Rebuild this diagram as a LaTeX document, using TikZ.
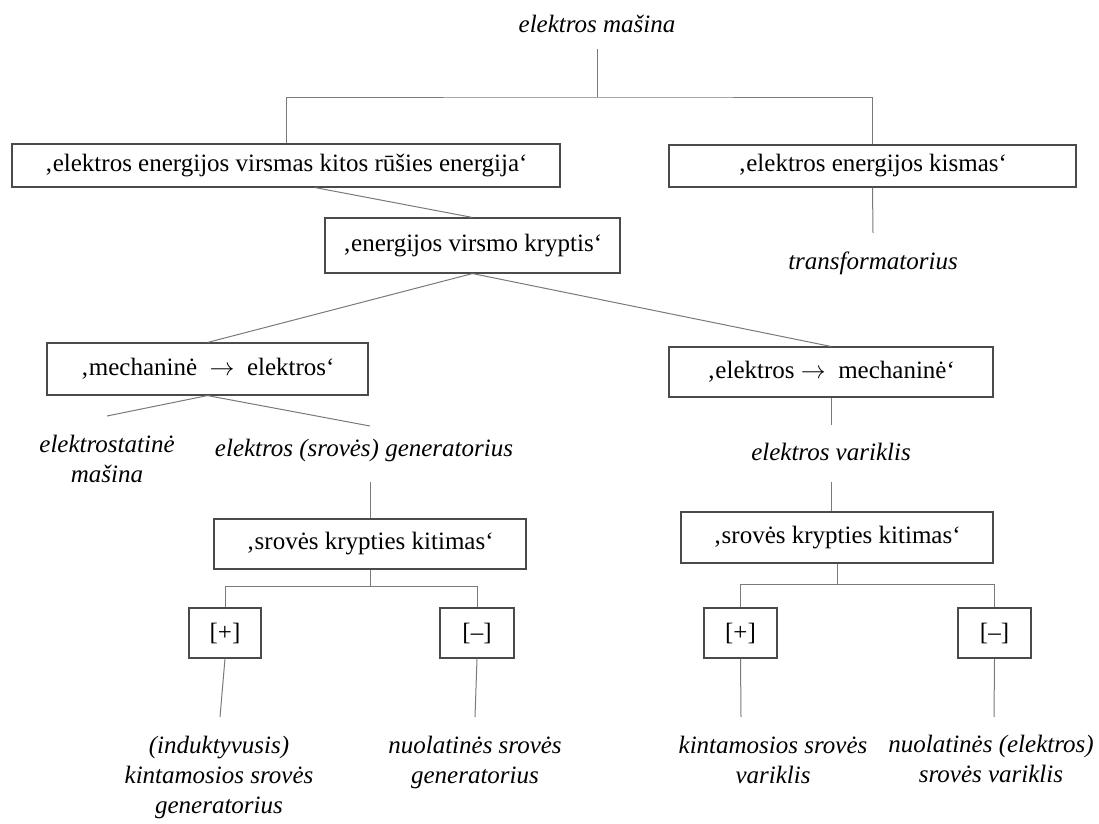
\documentclass[tikz,border=0pt]{standalone}
\usepackage{fontspec}
\setmainfont{Liberation Serif}
\definecolor{linegray}{HTML}{7A7A7A}
\definecolor{boxgray}{HTML}{4A4A4A}
\begin{document}
\begin{tikzpicture}[x=1pt,y=-1pt,
  every node/.style={font=\fontsize{25}{30}\selectfont, inner sep=0pt},
  box/.style={draw=boxgray, line width=1.1pt, anchor=center},
  lab/.style={font=\fontsize{25}{30}\selectfont\itshape, align=center},
  conn/.style={draw=linegray, line width=1pt}]
\fill[white] (0,0) rectangle (1099,823);
\useasboundingbox (0,0) rectangle (1099,823);

% top
\node[lab] (top) at (597,24) {elektros mašina};
\coordinate (j0) at (597,97);

\node[box, minimum width=548pt, minimum height=43pt] (lbox) at (286,165.5) {‚elektros energijos virsmas kitos rūšies energija‘};
\node[box, minimum width=407pt, minimum height=42pt] (rbox) at (872.5,166) {‚elektros energijos kismas‘};
\node[lab] (trans) at (873,263) {transformatorius};

\node[box, minimum width=295pt, minimum height=55pt] (en) at (472.5,245.5) {‚energijos virsmo kryptis‘};

\node[box, minimum width=321pt, minimum height=52pt] (mech) at (207.5,369) {‚mechaninė\enspace$\rightarrow$\enspace elektros‘};
\node[box, minimum width=324pt, minimum height=50pt] (elm) at (831,372) {‚elektros $\rightarrow$\enspace mechaninė‘};

\node[lab] (es) at (107,459) {elektrostatinė\\mašina};
\node[lab] (eg) at (364,450) {elektros (srovės) generatorius};
\node[lab] (ev) at (831,452) {elektros variklis};

\node[box, minimum width=312pt, minimum height=50pt] (sk1) at (370,544) {‚srovės krypties kitimas‘};
\node[box, minimum width=312pt, minimum height=51pt] (sk2) at (837,537.5) {‚srovės krypties kitimas‘};

\node[box, minimum width=72pt, minimum height=50pt] (p1) at (225,633) {[+]};
\node[box, minimum width=74pt, minimum height=50pt] (m1) at (477,633) {[–]};
\node[box, minimum width=73pt, minimum height=50pt] (p2) at (740.5,633) {[+]};
\node[box, minimum width=73pt, minimum height=50pt] (m2) at (994.5,633) {[–]};

\node[lab] (t1) at (219,777) {(induktyvusis)\\kintamosios srovės\\generatorius};
\node[lab] (t2) at (475,762) {nuolatinės srovės\\generatorius};
\node[lab] (t3) at (773,760) {kintamosios srovės\\variklis};
\node[lab] (t4) at (991,759) {nuolatinės (elektros)\\srovės variklis};

% connector end points
\coordinate (c0) at (597,49);
\coordinate (ctr) at (873,233);
\coordinate (ces1) at (107,416);
\coordinate (ceg1) at (370,426);
\coordinate (ceg2) at (370,482);
\coordinate (cev1) at (831,425);
\coordinate (cev2) at (831,482);
\coordinate (e1) at (220,717);
\coordinate (e2) at (475,717);
\coordinate (e3) at (741,717);
\coordinate (e4) at (994,717);

% connectors
\draw[conn] (c0) -- (j0);
\draw[conn] (lbox.north) |- (j0) -| (rbox.north);
\draw[conn] (rbox.south) -- (ctr);
\draw[conn] ([xshift=29pt]lbox.south) -- (en.north);
\draw[conn] (en.south) -- (mech.north);
\draw[conn] (en.south) -- (elm.north);
\draw[conn] (mech.south) -- (ces1);
\draw[conn] (mech.south) -- (ceg1);
\draw[conn] (ceg2) -- (ceg2 |- sk1.north);
\draw[conn] (elm.south) -- (cev1);
\draw[conn] (cev2) -- (cev2 |- sk2.north);

\draw[conn] (sk1.south) -- ++(0,17) coordinate (j1);
\draw[conn] (p1.north) |- (j1) -| (m1.north);
\draw[conn] (sk2.south) -- ++(0,21) coordinate (j2);
\draw[conn] (p2.north) |- (j2) -| (m2.north);

\draw[conn] (p1.south) -- (e1);
\draw[conn] (m1.south) -- (e2);
\draw[conn] (p2.south) -- (e3);
\draw[conn] (m2.south) -- (e4);
\end{tikzpicture}
\end{document}
